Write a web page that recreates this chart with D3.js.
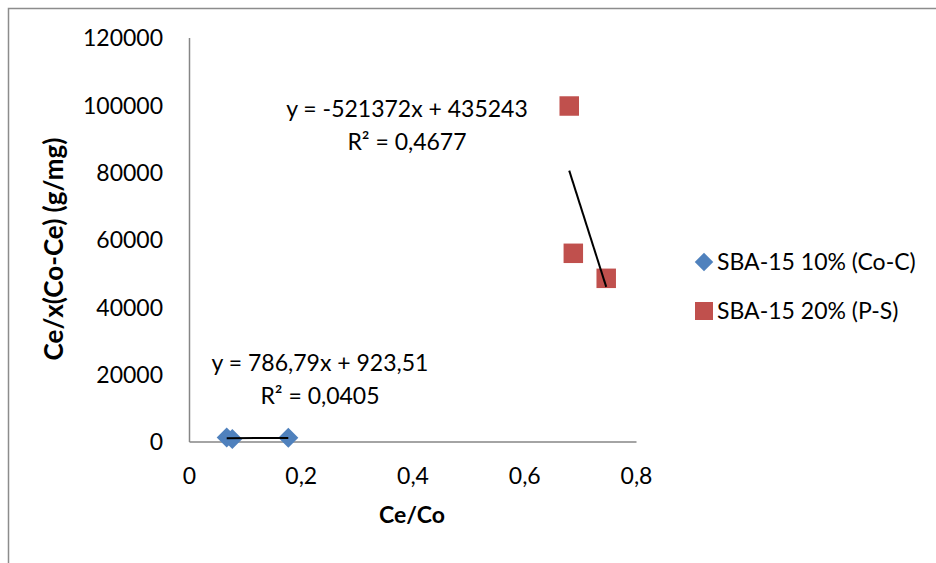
<!DOCTYPE html>
<html><head><meta charset="utf-8">
<script src="https://cdn.jsdelivr.net/npm/d3@7"></script>
<style>
html,body{margin:0;padding:0;background:#fff;}
svg{display:block;font-family:Lato, "Open Sans", sans-serif;}
</style></head>
<body>
<svg id="chart" width="936" height="563"></svg>
<script>
// ---- data ----
const seriesNames = ["SBA-15 10% (Co-C)", "SBA-15 20% (P-S)"];
const blueX = [0.0675, 0.0775, 0.1777];
const blueY = [1190, 745, 1095];
const redX = [0.6805, 0.6878, 0.7467];
const redY = [99650, 55900, 48470];
const blueTrend = {slope: 786.79, intercept: 923.51};
const redTrend = {slope: -521372, intercept: 435243};
const blueEq = ["y = 786,79x + 923,51", "R\u00B2 = 0,0405"];
const redEq = ["y = -521372x + 435243", "R\u00B2 = 0,4677"];
const xTicks = [0, 0.2, 0.4, 0.6, 0.8];
const yTicks = [0, 20000, 40000, 60000, 80000, 100000, 120000];
const xTitle = "Ce/Co";
const yTitle = "Ce/x(Co-Ce) (g/mg)";

const blueColor = "#4F81BD", redColor = "#C0504D";
const FS = 23;
const svg = d3.select("#chart");

// outer frame
svg.append("path").attr("d", "M8.5,570 L8.5,8.5 L950,8.5")
  .attr("fill", "none").attr("stroke", "#8c8c8c").attr("stroke-width", 1.5);

const x = d3.scaleLinear().domain([0, 0.8]).range([189, 636]);
const y = d3.scaleLinear().domain([0, 120000]).range([441.5, 37.5]);

const fmtX = v => v === 0 ? "0" : d3.format(".1f")(v).replace(".", ",");

const gx = svg.append("g").attr("transform", `translate(0,${y(0)})`)
  .call(d3.axisBottom(x).tickValues(xTicks).tickFormat(fmtX).tickSize(0).tickPadding(0));
gx.select(".domain").attr("stroke", "#868686").attr("stroke-width", 1.5);
gx.selectAll("text").attr("y", 42).attr("dy", 0).attr("font-size", FS)
  .attr("font-family", "Lato").attr("fill", "#000");

const gy = svg.append("g").attr("transform", `translate(${x(0)},0)`)
  .call(d3.axisLeft(y).tickValues(yTicks).tickFormat(d3.format("d")).tickSize(0).tickPadding(26));
gy.select(".domain").attr("stroke", "#868686").attr("stroke-width", 1.5);
gy.selectAll("text").attr("dy", "0.36em").attr("font-size", FS)
  .attr("font-family", "Lato").attr("fill", "#000");

// axis titles
svg.append("text").attr("x", 412).attr("y", 523).attr("text-anchor", "middle")
  .attr("font-weight", "bold").attr("font-size", FS).text(xTitle);
svg.append("text").attr("transform", "translate(63,249) rotate(-90)")
  .attr("text-anchor", "middle").attr("font-weight", "bold").attr("font-size", 26).text(yTitle);

// trendlines
function trend(xs, t) {
  const x0 = d3.min(xs), x1 = d3.max(xs);
  svg.append("line")
    .attr("x1", x(x0)).attr("y1", y(t.intercept + t.slope * x0))
    .attr("x2", x(x1)).attr("y2", y(t.intercept + t.slope * x1))
    .attr("stroke", "#000").attr("stroke-width", 2);
}

// points
const diamond = d3.symbol(d3.symbolSquare, 200);
const square = d3.symbol(d3.symbolSquare, 380);
svg.append("g").selectAll("path").data(blueX.map((v, i) => [v, blueY[i]])).join("path")
  .attr("d", diamond).attr("fill", blueColor)
  .attr("transform", d => `translate(${x(d[0])},${y(d[1])}) rotate(45)`);
svg.append("g").selectAll("path").data(redX.map((v, i) => [v, redY[i]])).join("path")
  .attr("d", square).attr("fill", redColor)
  .attr("transform", d => `translate(${x(d[0])},${y(d[1])})`);
trend(blueX, blueTrend);
trend(redX, redTrend);

// equations
function eq(lines, cx, y0, y1) {
  svg.append("text").attr("x", cx).attr("y", y0).attr("text-anchor", "middle").attr("font-size", FS).text(lines[0]);
  svg.append("text").attr("x", cx).attr("y", y1).attr("text-anchor", "middle").attr("font-size", FS).text(lines[1]);
}
eq(redEq, 407, 117, 150);
eq(blueEq, 320, 371, 404);

// legend
const lg = svg.append("g");
lg.append("path").attr("d", d3.symbol(d3.symbolSquare, 170)).attr("fill", blueColor)
  .attr("transform", "translate(704,262) rotate(45)");
lg.append("path").attr("d", d3.symbol(d3.symbolSquare, 324)).attr("fill", redColor)
  .attr("transform", "translate(704,311)");
lg.append("text").attr("x", 717).attr("y", 270).attr("font-size", FS).text(seriesNames[0]);
lg.append("text").attr("x", 717).attr("y", 319).attr("font-size", FS).text(seriesNames[1]);
</script>
</body></html>
